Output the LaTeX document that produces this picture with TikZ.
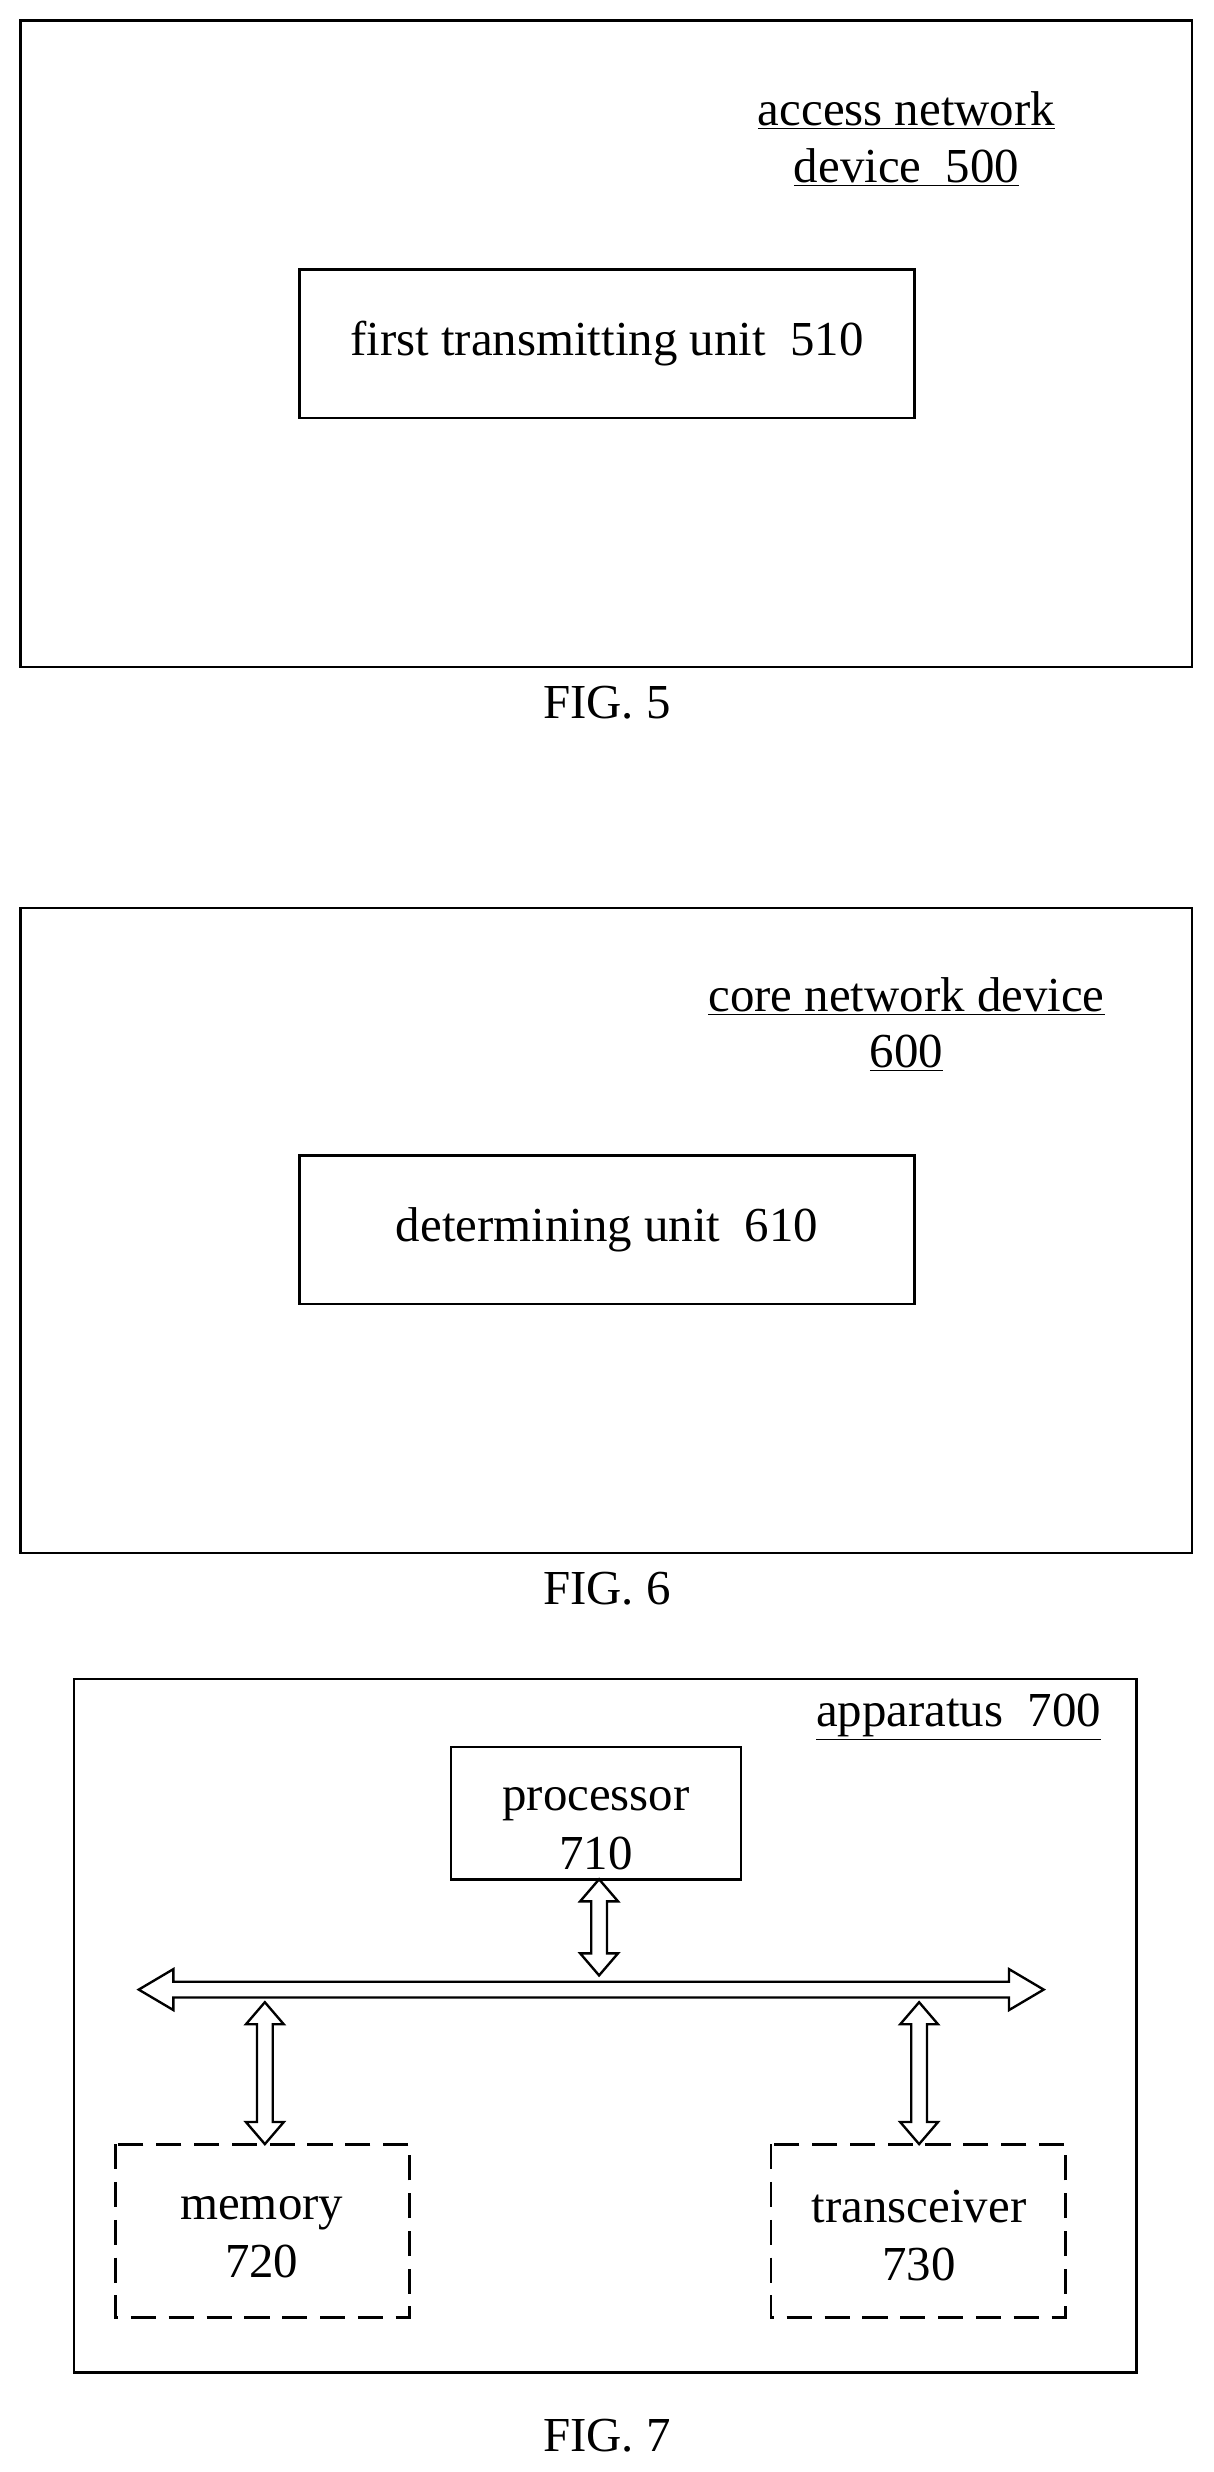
\documentclass[tikz,border=0pt]{standalone}
\usepackage{fontspec}
\setmainfont{Liberation Serif}
\newcommand\myharrow[4]{% x1 x2 y: horizontal hollow double arrow
\draw[hollow] (#1,#3) -- (#1+#4,#3-13) -- (#1+#4,#3-5) -- (#2-#4,#3-5) -- (#2-#4,#3-13) -- (#2,#3) -- (#2-#4,#3+13) -- (#2-#4,#3+5) -- (#1+#4,#3+5) -- (#1+#4,#3+13) -- cycle;}
\newcommand\myvarrow[3]{% x y1 y2
\draw[hollow] (#1,#2) -- (#1-12,#2+14) -- (#1-5,#2+14) -- (#1-5,#3-14) -- (#1-12,#3-14) -- (#1,#3) -- (#1+12,#3-14) -- (#1+5,#3-14) -- (#1+5,#2+14) -- (#1+12,#2+14) -- cycle;}
\begin{document}
\begin{tikzpicture}[x=1pt,y=-1pt,
  box/.style={draw,line width=1.6pt},
  dbox/.style={draw,line width=1.8pt,dash pattern=on 16pt off 8pt},
  hollow/.style={draw,line width=1.5pt,fill=white},
  txt/.style={font=\fontsize{31}{37}\selectfont,align=center},
  lbl/.style={font=\fontsize{31}{37}\selectfont}]
\useasboundingbox (0,0) rectangle (770,1568);
% FIG 5
\draw[box] (13,13) rectangle (756,423);
\node[lbl] (l5a) at (575,70) {\underline{access network}};
\node[lbl] (l5b) at (575,106) {\underline{device\ \ 500}};
\draw[box] (190,171) rectangle (580,265);
\node[txt] (u510) at (385,218) {first transmitting unit\ \ 510};
\node[lbl] (f5) at (385,446) {FIG. 5};
% FIG 6
\draw[box] (13,576) rectangle (756,985);
\node[lbl] (l6a) at (575,632) {\underline{core network device}};
\node[lbl] (l6b) at (575,668) {\underline{600}};
\draw[box] (190,733) rectangle (580,827);
\node[txt] (u610) at (385,780) {determining unit\ \ 610};
\node[lbl] (f6) at (385,1008) {FIG. 6};
% FIG 7
\draw[box] (47,1065) rectangle (721,1505);
\node[lbl] (l7) at (608,1089) {\underline{apparatus\ \ 700}};
\draw[box] (286,1108) rectangle (470,1192);
\node[txt] (p710) at (378,1160) {processor\\710};
\draw[dbox] (73,1360) rectangle (260,1470);
\node[txt] (m720) at (166,1419) {memory\\720};
\draw[dbox] (489,1360) rectangle (676,1470);
\node[txt] (t730) at (583,1418) {transceiver\\730};
\myharrow{88}{662}{1262}{22}
\myvarrow{380}{1192}{1253}
\myvarrow{168}{1270}{1360}
\myvarrow{583}{1270}{1360}
\node[lbl] (f7) at (385,1545) {FIG. 7};
\end{tikzpicture}
\end{document}
